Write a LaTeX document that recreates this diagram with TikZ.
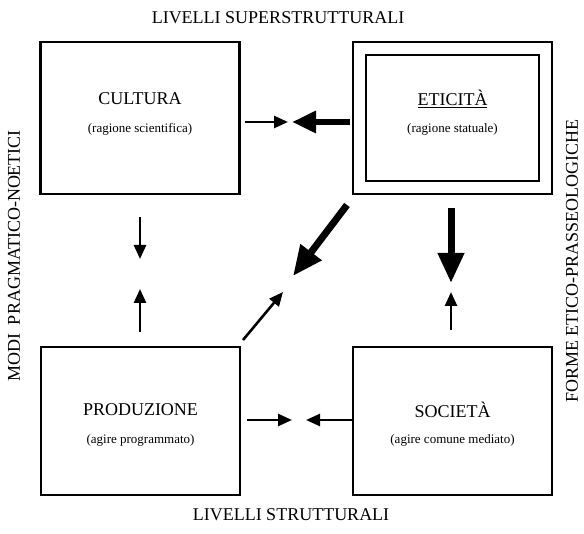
\documentclass[tikz,border=0pt]{standalone}
\usepackage{fontspec}
\setmainfont{Liberation Serif}
\usetikzlibrary{arrows.meta}
\begin{document}
\begin{tikzpicture}[x=1pt,y=-1pt,
  box/.style={draw, line width=2.4pt, minimum width=199pt, minimum height=152pt, inner sep=0pt},
  innerbox/.style={draw, line width=2.2pt, minimum width=173pt, minimum height=126pt, inner sep=0pt},
  title/.style={font=\fontsize{18}{21}\selectfont},
  sub/.style={font=\fontsize{13}{15}\selectfont},
  lab/.style={font=\fontsize{18}{21}\selectfont},
  thin/.style={line width=2.6pt, -{Triangle[length=14pt,width=12pt]}},
  thick/.style={line width=7pt, -{Triangle[length=30pt,width=25pt]}},
  mid/.style={line width=6pt, -{Triangle[length=24pt,width=21pt]}}
]
\useasboundingbox (0,0) rectangle (584,534);

% labels
\node[lab] (sup) at (278,18) {LIVELLI SUPERSTRUTTURALI};
\node[lab] (str) at (291,515) {LIVELLI STRUTTURALI};
\node[lab, rotate=90] (modi) at (14,256) {MODI\ \ PRAGMATICO-NOETICI};
\node[lab, rotate=90] (forme) at (572,261) {FORME ETICO-PRASSEOLOGICHE};

% boxes
\node[box] (cult) at (140,118) {};
\node[box] (etic) at (452.5,118) {};
\node[innerbox] (eticin) at (452.5,118) {};
\node[box, minimum height=148pt] (prod) at (140.5,421) {};
\node[box, minimum height=148pt] (soc) at (452.5,421) {};

% texts
\node[title] (cultT) at (140,99) {CULTURA};
\node[sub] (cultS) at (140,129) {(ragione scientifica)};
\node[title] (eticT) at (452.5,99) {\underline{ETICITÀ}};
\node[sub] (eticS) at (452.5,129) {(ragione statuale)};
\node[title] (prodT) at (140.5,410) {PRODUZIONE};
\node[sub] (prodS) at (140.5,440) {(agire programmato)};
\node[title] (socT) at (452.5,410) {SOCIETÀ};
\node[sub] (socS) at (452.5,440) {(agire comune mediato)};

% arrow end points
\coordinate (a1s) at (245,122); \coordinate (a1e) at (288,122);
\coordinate (a2s) at (350,122); \coordinate (a2e) at (292,122);
\coordinate (a3s) at (140,217); \coordinate (a3e) at (140,259);
\coordinate (a4s) at (140,332); \coordinate (a4e) at (140,289);
\coordinate (a5s) at (347,205); \coordinate (a5e) at (293,276);
\coordinate (a6s) at (243,340); \coordinate (a6e) at (283,292);
\coordinate (a7s) at (451,208); \coordinate (a7e) at (451,283);
\coordinate (a8s) at (451,330); \coordinate (a8e) at (451,292);
\coordinate (a9s) at (247,420); \coordinate (a9e) at (292,420);
\coordinate (a10s) at (352,420); \coordinate (a10e) at (306,420);

\draw[thin] (a1s) -- (a1e);
\draw[mid] (a2s) -- (a2e);
\draw[thin] (a3s) -- (a3e);
\draw[thin] (a4s) -- (a4e);
\draw[thick] (a5s) -- (a5e);
\draw[thin] (a6s) -- (a6e);
\draw[thick] (a7s) -- (a7e);
\draw[thin] (a8s) -- (a8e);
\draw[thin] (a9s) -- (a9e);
\draw[thin] (a10s) -- (a10e);
\end{tikzpicture}
\end{document}
